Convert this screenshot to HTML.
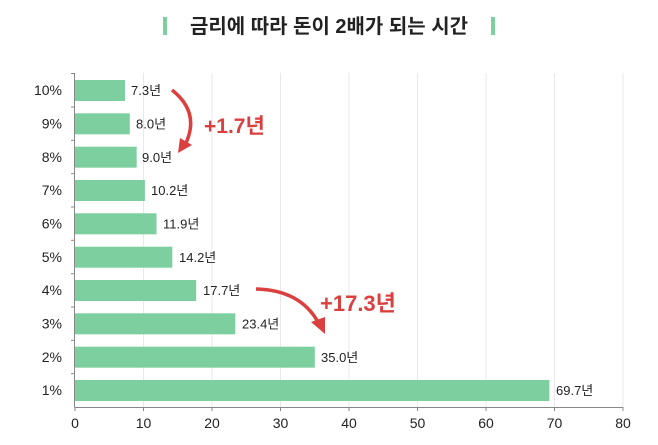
<!DOCTYPE html>
<html><head><meta charset="utf-8"><style>
body{margin:0;background:#fff;}
svg text{font-family:"Liberation Sans","Noto Sans CJK KR",sans-serif;}
</style></head><body>
<svg width="658" height="440" viewBox="0 0 658 440" xmlns="http://www.w3.org/2000/svg">
<rect width="658" height="440" fill="#fff"/>
<rect x="163" y="17" width="4" height="18" fill="#7dcf9f"/>
<rect x="491" y="17" width="4" height="18" fill="#7dcf9f"/>
<text x="329" y="33" font-size="20" font-weight="bold" fill="#222" text-anchor="middle">금리에 따라 돈이 2배가 되는 시간</text>
<g stroke="#e8e8e8" stroke-width="1">
<line x1="143.5" y1="73" x2="143.5" y2="407"/>
<line x1="212" y1="73" x2="212" y2="407"/>
<line x1="280.5" y1="73" x2="280.5" y2="407"/>
<line x1="349" y1="73" x2="349" y2="407"/>
<line x1="417.5" y1="73" x2="417.5" y2="407"/>
<line x1="486" y1="73" x2="486" y2="407"/>
<line x1="554.5" y1="73" x2="554.5" y2="407"/>
<line x1="623" y1="73" x2="623" y2="407"/>
</g>
<g fill="#7dcf9f">
<rect x="75" y="80" width="50" height="21"/>
<rect x="75" y="113.3" width="54.8" height="21"/>
<rect x="75" y="146.7" width="61.7" height="21"/>
<rect x="75" y="180" width="69.9" height="21"/>
<rect x="75" y="213.3" width="81.5" height="21"/>
<rect x="75" y="246.7" width="97.3" height="21"/>
<rect x="75" y="280" width="121.2" height="21"/>
<rect x="75" y="313.3" width="160.3" height="21"/>
<rect x="75" y="346.7" width="239.8" height="21"/>
<rect x="75" y="380" width="474.4" height="21"/>
</g>
<g font-size="13" fill="#222">
<text x="131" y="95">7.3년</text>
<text x="136" y="128.5">8.0년</text>
<text x="142" y="161.8">9.0년</text>
<text x="151" y="195">10.2년</text>
<text x="163" y="228.5">11.9년</text>
<text x="179" y="261.8">14.2년</text>
<text x="203" y="295">17.7년</text>
<text x="242" y="328.5">23.4년</text>
<text x="321" y="361.8">35.0년</text>
<text x="556" y="395">69.7년</text>
</g>
<g font-size="14" fill="#222" text-anchor="end">
<text x="62" y="95">10%</text>
<text x="62" y="128.5">9%</text>
<text x="62" y="161.8">8%</text>
<text x="62" y="195">7%</text>
<text x="62" y="228.5">6%</text>
<text x="62" y="261.8">5%</text>
<text x="62" y="295">4%</text>
<text x="62" y="328.5">3%</text>
<text x="62" y="361.8">2%</text>
<text x="62" y="395">1%</text>
</g>
<g stroke="#888" stroke-width="1">
<line x1="74.5" y1="73" x2="74.5" y2="407.5"/>
<line x1="74.5" y1="407.5" x2="623" y2="407.5"/>
<line x1="71" y1="73.5" x2="75" y2="73.5"/>
<line x1="71" y1="107" x2="75" y2="107"/>
<line x1="71" y1="140.3" x2="75" y2="140.3"/>
<line x1="71" y1="173.7" x2="75" y2="173.7"/>
<line x1="71" y1="207" x2="75" y2="207"/>
<line x1="71" y1="240.3" x2="75" y2="240.3"/>
<line x1="71" y1="273.7" x2="75" y2="273.7"/>
<line x1="71" y1="307" x2="75" y2="307"/>
<line x1="71" y1="340.3" x2="75" y2="340.3"/>
<line x1="71" y1="373.7" x2="75" y2="373.7"/>
<line x1="75" y1="407" x2="75" y2="411"/>
<line x1="143.5" y1="407" x2="143.5" y2="411"/>
<line x1="212" y1="407" x2="212" y2="411"/>
<line x1="280.5" y1="407" x2="280.5" y2="411"/>
<line x1="349" y1="407" x2="349" y2="411"/>
<line x1="417.5" y1="407" x2="417.5" y2="411"/>
<line x1="486" y1="407" x2="486" y2="411"/>
<line x1="554.5" y1="407" x2="554.5" y2="411"/>
<line x1="623" y1="407" x2="623" y2="411"/>
</g>
<g font-size="14" fill="#222" text-anchor="middle">
<text x="75" y="428">0</text><text x="143.5" y="428">10</text><text x="212" y="428">20</text>
<text x="280.5" y="428">30</text><text x="349" y="428">40</text><text x="417.5" y="428">50</text>
<text x="486" y="428">60</text><text x="554.5" y="428">70</text><text x="623" y="428">80</text>
</g>
<path d="M172,90 Q200,112 186,143" fill="none" stroke="#d9403f" stroke-width="3.5"/>
<path d="M178,153 L180,138 L192,145 Z" fill="#d9403f"/>
<text x="204" y="133" font-size="21" font-weight="bold" fill="#d9403f">+1.7년</text>
<path d="M256,289 Q300,290 318,322" fill="none" stroke="#d9403f" stroke-width="3.5"/>
<path d="M325,334 L311,322 L325,317 Z" fill="#d9403f"/>
<text x="320" y="311" font-size="22" font-weight="bold" fill="#d9403f">+17.3년</text>
</svg>
</body></html>
